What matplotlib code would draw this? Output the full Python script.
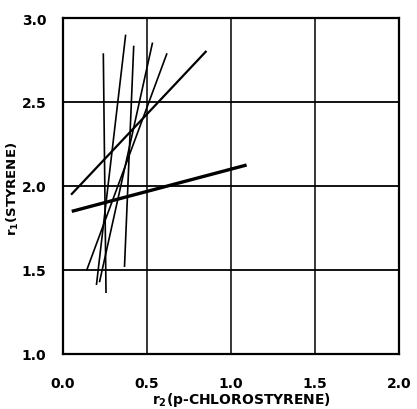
"""Reactivity ratio intersection plot: styrene / p-chlorostyrene."""

import matplotlib

matplotlib.use("Agg")
import matplotlib.pyplot as plt

# each entry: (r2 at end 1, r1 at end 1, r2 at end 2, r1 at end 2)
thin_lines = [
    (0.240, 2.790, 0.256, 1.363),
    (0.373, 2.901, 0.199, 1.411),
    (0.421, 2.835, 0.366, 1.518),
    (0.533, 2.854, 0.217, 1.427),
    (0.619, 2.790, 0.140, 1.496),
]
medium_line = (0.854, 2.804, 0.048, 1.948)
thick_line = (0.052, 1.849, 1.093, 2.125)

x_ticks = [0.0, 0.5, 1.0, 1.5, 2.0]
x_tick_labels = ["0.0", "0.5", "1.0", "1.5", "2.0"]
y_ticks = [1.0, 1.5, 2.0, 2.5, 3.0]
y_tick_labels = ["1.0", "1.5", "2.0", "2.5", "3.0"]

fig = plt.figure(figsize=(4.17, 4.10), dpi=100)
ax = fig.add_axes((63 / 417, 1 - 355 / 410, 336 / 417, 336 / 410))

ax.set_xlim(0.0, 2.0)
ax.set_ylim(1.0, 3.0)

for value in x_ticks[1:-1]:
    ax.axvline(value, color="black", linewidth=1.1, zorder=1)
for value in y_ticks[1:-1]:
    ax.axhline(value, color="black", linewidth=1.3, zorder=1)

for x0, y0, x1, y1 in thin_lines:
    ax.plot([x0, x1], [y0, y1], color="black", linewidth=1.2, solid_capstyle="butt", zorder=3)
x0, y0, x1, y1 = medium_line
ax.plot([x0, x1], [y0, y1], color="black", linewidth=1.6, solid_capstyle="butt", zorder=3)
x0, y0, x1, y1 = thick_line
ax.plot([x0, x1], [y0, y1], color="black", linewidth=2.4, solid_capstyle="butt", zorder=3)

for spine in ax.spines.values():
    spine.set_linewidth(1.6)

ax.set_xticks(x_ticks)
ax.set_xticklabels(x_tick_labels, fontsize=10, fontweight="bold")
ax.set_yticks(y_ticks)
ax.set_yticklabels(y_tick_labels, fontsize=10, fontweight="bold")
ax.tick_params(axis="x", length=0, pad=16)
ax.tick_params(axis="y", length=0, pad=12)

fig.text(241 / 417, 1 - 400 / 410, r"$\mathregular{r_2}$(p-CHLOROSTYRENE)",
         fontsize=10, fontweight="bold", ha="center", va="center")
fig.text(13 / 417, 1 - 189 / 410, r"$\mathregular{r_1}$(STYRENE)",
         fontsize=9.5, fontweight="bold", ha="center", va="center", rotation=90)

fig.savefig("out.png", dpi=100)
